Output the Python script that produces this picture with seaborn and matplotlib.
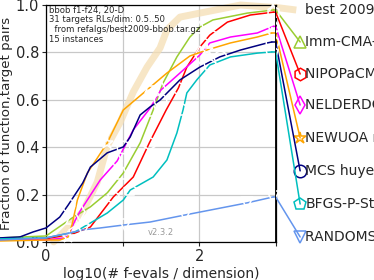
import pandas as pd
import seaborn as sns
import matplotlib.pyplot as plt

# ECDF curves (x = log10(evals/dim), y = fraction)
best_x = [0.10, 0.18, 0.31, 0.48, 0.67, 0.80, 0.97, 1.14, 1.32, 1.49, 1.58, 1.75, 2.01, 2.54, 2.97]
best_y = [0.0, 0.025, 0.068, 0.127, 0.253, 0.405, 0.506, 0.633, 0.738, 0.819, 0.895, 0.949, 0.966, 1.0, 0.99]

imm_x = [-0.6, 0.0, 0.34, 0.58, 0.80, 1.01, 1.23, 1.40, 1.53, 1.71, 1.88, 2.01, 2.18, 2.63, 2.97]
imm_y = [0.017, 0.025, 0.101, 0.148, 0.207, 0.291, 0.418, 0.557, 0.671, 0.781, 0.865, 0.907, 0.937, 0.966, 0.979]

nipop_x = [-0.6, 0.0, 0.35, 0.58, 0.88, 1.14, 1.35, 1.57, 1.73, 1.84, 2.01, 2.14, 2.37, 2.67, 2.97]
nipop_y = [0.008, 0.013, 0.034, 0.063, 0.19, 0.274, 0.418, 0.557, 0.65, 0.738, 0.823, 0.873, 0.928, 0.958, 0.97]

nelder_x = [-0.6, 0.0, 0.25, 0.31, 0.37, 0.44, 0.71, 0.93, 1.14, 1.36, 1.50, 1.75, 2.01, 2.14, 2.41, 2.76, 2.97]
nelder_y = [0.008, 0.008, 0.017, 0.038, 0.084, 0.127, 0.262, 0.342, 0.473, 0.565, 0.641, 0.713, 0.789, 0.84, 0.865, 0.882, 0.91]

newuoa_x = [-0.6, 0.0, 0.18, 0.29, 0.34, 0.41, 0.54, 0.67, 0.80, 1.01, 1.35, 1.58, 1.88, 2.10, 2.41, 2.76, 2.95]
newuoa_y = [0.004, 0.008, 0.008, 0.021, 0.072, 0.177, 0.291, 0.354, 0.418, 0.557, 0.65, 0.713, 0.785, 0.81, 0.84, 0.865, 0.882]

mcs_x = [-0.6, -0.34, -0.17, 0.0, 0.18, 0.29, 0.48, 0.58, 0.80, 1.01, 1.10, 1.23, 1.36, 1.49, 1.75, 2.01, 2.27, 2.54, 2.89, 2.95]
mcs_y = [0.017, 0.021, 0.042, 0.059, 0.105, 0.156, 0.249, 0.316, 0.376, 0.401, 0.443, 0.536, 0.57, 0.599, 0.684, 0.738, 0.781, 0.81, 0.84, 0.844]

bfgs_x = [-0.6, 0.0, 0.12, 0.38, 0.58, 0.80, 1.01, 1.10, 1.40, 1.58, 1.71, 1.79, 1.84, 1.97, 2.14, 2.41, 2.76, 2.95]
bfgs_y = [0.013, 0.017, 0.025, 0.042, 0.08, 0.122, 0.177, 0.219, 0.274, 0.346, 0.46, 0.557, 0.629, 0.684, 0.747, 0.781, 0.797, 0.802]

rand_x = [-0.6, 0.0, 0.31, 0.48, 0.71, 1.03, 1.36, 1.82, 2.63, 2.97]
rand_y = [0.008, 0.017, 0.038, 0.051, 0.059, 0.072, 0.084, 0.114, 0.165, 0.19]

names = ["best 2009", "Imm-CMA-ES Loshchilov", "NIPOPaCMA Loshchilov", "NELDERDOERR Doerr",
         "NEWUOA ros", "MCS huyer", "BFGS-P-StPt", "RANDOMSEARCH auger"]
label_y = [0.979, 0.844, 0.709, 0.578, 0.439, 0.30, 0.16, 0.021]

curves = [(best_x, best_y), (imm_x, imm_y), (nipop_x, nipop_y), (nelder_x, nelder_y),
          (newuoa_x, newuoa_y), (mcs_x, mcs_y), (bfgs_x, bfgs_y), (rand_x, rand_y)]

colors = ["wheat", "yellowgreen", "red", "magenta", "orange", "navy", "c", "cornflowerblue"]
markers = [None, "^", "h", "d", "*", "o", "p", "v"]
mark_at = [[], [2, 5, 7, 11, 14], [4, 6, 8, 11, 14], [5, 7, 10, 12, 16], [3, 8, 10, 13, 16],
           [5, 9, 13, 16, 19], [3, 7, 11, 14, 17], [3, 5, 7, 8, 9]]

sns.set_style("white")
fig = plt.figure(figsize=(3.74, 2.8), dpi=100)
ax = fig.add_axes([0.123, 0.136, 0.614, 0.846])

x_end = 3.0
x_lab = 3.32

for i, (xs, ys) in enumerate(curves):
    df = pd.DataFrame({"x": xs, "y": ys})
    if i == 0:
        sns.lineplot(data=df, x="x", y="y", ax=ax, color=colors[i], lw=5, alpha=0.75,
                     estimator=None, sort=False, clip_on=False, zorder=1)
        ax.plot([xs[-1], x_end, x_lab - 0.05], [ys[-1], ys[-1], label_y[i]], color=colors[i],
                lw=5, alpha=0.75, clip_on=False, zorder=1, solid_capstyle="butt")
    else:
        sns.lineplot(data=df, x="x", y="y", ax=ax, color=colors[i], lw=1.1,
                     marker=markers[i], markevery=mark_at[i], ms=9, mfc="none", mew=1.1,
                     estimator=None, sort=False, clip_on=False, zorder=3)
        ax.plot([xs[-1], x_end, x_lab], [ys[-1], ys[-1], label_y[i]], color=colors[i], lw=1.1,
                marker=markers[i], markevery=[2], ms=9, mfc="none", mew=1.1, clip_on=False, zorder=3)
    ax.text(x_lab + 0.07, label_y[i], names[i], fontsize=10, va="center", ha="left",
            clip_on=False)

ax.axvline(x_end, color="black", lw=1.3, zorder=4)

ax.set_xlim(0, x_end)
ax.set_ylim(0, 1)
ax.set_xticks([0, 1, 2, 3])
ax.set_xticklabels(["0", "", "2", ""])
ax.set_yticks([0, 0.2, 0.4, 0.6, 0.8, 1.0])
ax.set_yticklabels(["0.0", "0.2", "0.4", "0.6", "0.8", "1.0"])
ax.tick_params(labelsize=10.5, length=3, pad=2, direction="out", bottom=True, left=True)
ax.grid(True, color="#c8c8c8", lw=0.9)
ax.set_axisbelow(True)
for s in ax.spines.values():
    s.set_color("black")
    s.set_linewidth(0.9)

ax.set_xlabel("log10(# f-evals / dimension)", fontsize=10, labelpad=2)
ax.set_ylabel("Fraction of function,target pairs", fontsize=9.6, labelpad=2)

ax.text(0.012, 0.997, "bbob f1-f24, 20-D\n31 targets RLs/dim: 0.5..50\n  from refalgs/best2009-bbob.tar.gz\n15 instances",
        transform=ax.transAxes, fontsize=6.1, va="top", ha="left", linespacing=1.1)
ax.text(0.5, 0.02, "v2.3.2", transform=ax.transAxes, fontsize=6, color="#999999",
        ha="center", va="bottom")

fig.savefig("out.png", dpi=100)
